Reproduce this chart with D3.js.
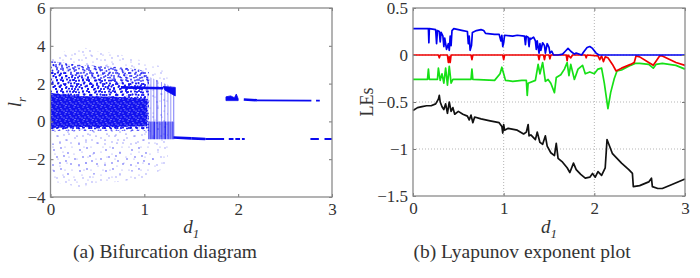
<!DOCTYPE html>
<html>
<head>
<meta charset="utf-8">
<script src="https://cdn.jsdelivr.net/npm/d3@7"></script>
<style>
  body { margin: 0; background: #fff; }
  svg text { font-family: "Liberation Serif", serif; fill: #333; }
</style>
</head>
<body>
<svg id="fig" width="700" height="278"></svg>
<script>
// ---- data ----

// (a) bifurcation diagram: scatter envelopes [d1, low lr, high lr]
const sparseCloud = [[0, -3.2, 3.4], [0.15, -3.3, 3.7], [0.3, -3.5, 4.0], [0.5, -3.3, 3.7], [0.7, -3.2, 3.6],
  [0.85, -3.1, 3.4], [1.0, -3.0, 3.2], [1.1, -2.8, 3.0], [1.2, -2.5, 2.9], [1.25, -2.2, 2.4]];
const lowerCloud = [[0, -2.8, -1.2], [0.3, -2.9, -1.2], [0.6, -2.7, -1.3], [0.9, -2.6, -1.3], [1.1, -2.4, -1.4]];
const gapCloud = [[0, -1.2, -0.5], [0.5, -1.2, -0.5], [1.0, -1.2, -0.5]];
const mediumCloud = [[0, -0.5, 3.2], [0.3, -0.5, 3.0], [0.6, -0.5, 2.9], [0.9, -0.5, 2.8], [1.05, -0.5, 2.6]];
const heavyCloud = [[0, -0.4, 2.7], [0.3, -0.4, 2.4], [0.6, -0.4, 2.2], [0.9, -0.4, 2.1], [1.03, -0.4, 2.0]];
const denseCloud = [[0, -0.35, 1.5], [0.3, -0.3, 1.35], [0.7, -0.3, 1.3], [1.03, -0.25, 1.2]];
const denseEdge = [[0, -0.4, 3.1], [0.05, -0.4, 3.0]];
const streakUpper = [[1.03, 0.0, 2.4], [1.32, 0.0, 1.8]];
const streakLower = [[1.04, -0.95, 0.0], [1.32, -0.95, 0.0]];
const blockBand = [[1.2, 1.85], [1.33, 1.8], [1.33, 1.35], [1.22, 1.65]];
const blockCluster = [[1.87, 1.1], [1.87, 1.3], [1.92, 1.35], [1.96, 1.25], [1.98, 1.45], [2.0, 1.2], [2.0, 1.1]];
// periodic branches [d1 start, lr start, d1 end, lr end]
const thickBranches = [[1.31, -0.85, 1.5, -0.9], [1.5, -0.9, 1.65, -0.93], [2.06, 1.16, 2.2, 1.12], [0.75, 1.8, 1.2, 1.75]];
const thinBranches = [[1.65, -0.93, 1.85, -0.93], [1.9, -0.93, 1.95, -0.93], [1.97, -0.93, 2.02, -0.93],
  [2.04, -0.93, 2.07, -0.93], [2.2, 1.11, 2.78, 1.1], [2.83, 1.1, 2.87, 1.1], [2.77, -0.93, 2.86, -0.93], [2.92, -0.93, 3.0, -0.93]];

// (b) Lyapunov exponents [d1, value]
const le1 = [[0,0.28],[0.17,0.28],[0.175,0.13],[0.18,0.28],[0.25,0.27],[0.26,0.12],[0.27,0.26],[0.29,0.25],[0.3,0.14],
  [0.31,0.24],[0.33,0.2],[0.34,0.09],[0.35,0.18],[0.37,0.06],[0.39,0.12],[0.4,0.05],[0.41,0.2],[0.42,0.1],[0.43,0.26],
  [0.45,0.28],[0.5,0.27],[0.55,0.26],[0.6,0.25],[0.61,0.12],[0.62,0.2],[0.63,0.05],[0.645,0.1],[0.655,0.24],[0.7,0.26],
  [0.75,0.27],[0.78,0.26],[0.8,0.23],[0.9,0.22],[0.95,0.22],[0.97,0.15],[0.98,0.21],[0.99,0.09],[1.0,0.13],[1.01,0.21],
  [1.1,0.2],[1.15,0.21],[1.23,0.2],[1.24,0.11],[1.25,0.2],[1.27,0.19],[1.28,0.09],[1.29,0.18],[1.3,0.17],[1.33,0.19],
  [1.35,0.15],[1.36,0.06],[1.37,0.15],[1.39,0.02],[1.4,0.12],[1.41,0.05],[1.43,0.13],[1.45,0.1],[1.46,0.02],[1.48,0.12],
  [1.5,0.08],[1.51,0.02],[1.53,0.04],[1.55,0.0],[1.6,0.0],[1.65,0.01],[1.68,0.04],[1.71,0.07],[1.74,0.04],[1.78,0.01],
  [1.8,0.02],[1.83,0.01],[1.86,0.0],[1.88,0.03],[1.92,0.08],[1.95,0.09],[1.98,0.07],[2.02,0.02],[2.05,0.0],[3.0,0.0]];
const le2 = [[0,0],[0.28,0],[0.29,-0.03],[0.3,0],[0.38,0],[0.39,-0.08],[0.4,-0.02],[0.41,-0.08],[0.42,0],[0.64,0],
  [0.65,-0.05],[0.66,0],[0.99,0],[1.0,-0.05],[1.01,0],[1.38,0],[1.39,-0.05],[1.4,0],[1.44,0],[1.45,-0.05],[1.46,0],
  [1.5,0],[1.51,-0.04],[1.52,0],[1.69,0],[1.7,-0.06],[1.71,0],[1.74,-0.03],[1.76,0],[1.9,0],[1.91,-0.03],[1.92,0],
  [2.04,-0.01],[2.06,-0.05],[2.08,-0.01],[2.1,-0.07],[2.12,-0.02],[2.15,-0.03],[2.2,-0.1],[2.24,-0.17],[2.3,-0.14],
  [2.4,-0.1],[2.44,-0.08],[2.46,-0.01],[2.5,-0.02],[2.6,-0.08],[2.65,-0.11],[2.72,-0.01],[2.75,-0.01],[2.9,-0.08],[3.0,-0.11]];
const le3 = [[0,-0.26],[0.16,-0.26],[0.17,-0.15],[0.18,-0.26],[0.27,-0.26],[0.28,-0.14],[0.3,-0.27],[0.32,-0.2],
  [0.34,-0.3],[0.36,-0.14],[0.38,-0.32],[0.4,-0.12],[0.42,-0.3],[0.44,-0.26],[0.64,-0.26],[0.65,-0.15],[0.66,-0.26],
  [0.9,-0.27],[0.96,-0.2],[0.98,-0.13],[1.0,-0.2],[1.02,-0.27],[1.1,-0.28],[1.2,-0.27],[1.25,-0.27],[1.26,-0.43],
  [1.27,-0.3],[1.35,-0.27],[1.38,-0.1],[1.4,-0.2],[1.43,-0.08],[1.46,-0.28],[1.49,-0.26],[1.52,-0.3],[1.56,-0.4],
  [1.58,-0.24],[1.63,-0.21],[1.67,-0.15],[1.7,-0.08],[1.72,-0.22],[1.74,-0.1],[1.78,-0.26],[1.82,-0.15],[1.87,-0.11],
  [1.9,-0.2],[1.95,-0.18],[2.0,-0.2],[2.04,-0.15],[2.08,-0.14],[2.11,-0.3],[2.15,-0.57],[2.18,-0.4],[2.22,-0.25],
  [2.25,-0.17],[2.3,-0.16],[2.4,-0.11],[2.45,-0.09],[2.5,-0.09],[2.6,-0.1],[2.65,-0.14],[2.68,-0.1],[2.75,-0.09],
  [2.9,-0.11],[3.0,-0.15]];
const le4 = [[0,-0.59],[0.05,-0.56],[0.1,-0.55],[0.15,-0.54],[0.2,-0.54],[0.25,-0.52],[0.28,-0.47],[0.29,-0.43],
  [0.3,-0.5],[0.32,-0.55],[0.34,-0.58],[0.36,-0.52],[0.38,-0.62],[0.4,-0.5],[0.42,-0.6],[0.44,-0.56],[0.46,-0.63],
  [0.5,-0.6],[0.55,-0.63],[0.6,-0.65],[0.62,-0.69],[0.64,-0.64],[0.66,-0.72],[0.68,-0.66],[0.75,-0.68],[0.85,-0.7],
  [0.95,-0.72],[0.98,-0.76],[0.99,-0.83],[1.0,-0.74],[1.01,-0.8],[1.05,-0.78],[1.15,-0.8],[1.22,-0.84],[1.25,-0.82],
  [1.27,-0.74],[1.28,-0.86],[1.3,-0.85],[1.35,-0.9],[1.37,-0.82],[1.4,-0.93],[1.43,-0.95],[1.46,-0.86],[1.48,-0.97],
  [1.52,-1.04],[1.56,-1.07],[1.58,-0.94],[1.6,-1.1],[1.65,-1.14],[1.7,-1.2],[1.73,-1.25],[1.77,-1.15],[1.8,-1.22],
  [1.85,-1.27],[1.9,-1.31],[1.95,-1.3],[1.98,-1.26],[2.01,-1.3],[2.04,-1.24],[2.08,-1.28],[2.12,-1.2],[2.14,-0.9],
  [2.16,-0.95],[2.2,-1.05],[2.25,-1.1],[2.3,-1.15],[2.38,-1.22],[2.42,-1.26],[2.43,-1.4],[2.5,-1.39],[2.6,-1.35],
  [2.63,-1.31],[2.64,-1.4],[2.7,-1.42],[2.75,-1.42],[2.85,-1.38],[3.0,-1.32]];

const xTicks = [0, 1, 2, 3];
const leftYTicks = [-4, -2, 0, 2, 4, 6];
const rightYTicks = [-1.5, -1, -0.5, 0, 0.5];
const rightGridY = [-1, -0.5, 0];
const rightGridX = [1, 2];

// ---- drawing ----
const svg = d3.select('#fig');
const defs = svg.append('defs');
const blue = '#0a0af0';
const serif = '"Liberation Serif", serif';

// stipple textures for the scatter cloud; two tile sizes overlap so the dots do not line up
function stipple(id, w, h, dots, r, color, opacity, bg) {
  const p = defs.append('pattern').attr('id', id).attr('patternUnits', 'userSpaceOnUse')
    .attr('width', w).attr('height', h);
  if (bg) p.append('rect').attr('width', w).attr('height', h).attr('fill', bg);
  p.selectAll('circle').data(dots).join('circle')
    .attr('cx', d => d[0]).attr('cy', d => d[1]).attr('r', r)
    .attr('fill', color).attr('fill-opacity', opacity);
}
stipple('sparseA', 26, 21, [[2,3],[9,1],[16,6],[23,12],[5,10],[12,9],[19,17],[8,16],[14,14],[1,18]], 0.65, blue, 0.5);
stipple('sparseB', 19, 23, [[3,5],[10,2],[15,9],[6,14],[12,19],[17,16],[1,21],[8,9]], 0.6, blue, 0.45);
stipple('mediumA', 16, 12, [[1,1],[7,2],[13,1.5],[2,4],[8,5],[14,5.5],[3,7.5],[9,8],[15,8.5],[4.5,10.5],[10.5,11],[12,3]],
  0.95, blue, 0.8);
stipple('mediumB', 13, 11, [[4,0.5],[10,1],[5,3.5],[11,4],[0.5,7],[6,6.5],[12,7],[1.5,10],[7.5,9.5],[9,3]],
  0.95, blue, 0.8);
stipple('dense', 9, 7, [[2,2],[6,1],[4,5],[8,5],[1,6],[7,3.5],[3,0.5]], 0.6, '#ffffff', 0.7, '#1212ee');
function streaks(id, w, xs, width, opacity) {
  const p = defs.append('pattern').attr('id', id).attr('patternUnits', 'userSpaceOnUse')
    .attr('width', w).attr('height', 5);
  p.selectAll('rect').data(xs).join('rect')
    .attr('x', d => d).attr('width', width).attr('height', 5).attr('fill', blue).attr('fill-opacity', opacity);
}
streaks('streakLight', 17, [0.5, 3.2, 4.4, 8, 11.5, 14.6], 0.7, 0.6);
streaks('streakDense', 11, [0, 1.6, 2.8, 4.5, 5.6, 7.3, 8.5, 9.8], 0.9, 0.95);

const tickFont = 17;

function frame(g, x, y, yTicks, yFmt) {
  const x0 = x.range()[0], x1 = x.range()[1], y0 = y.range()[1], y1 = y.range()[0];
  g.append('g').attr('transform', `translate(0,${y1})`)
    .call(d3.axisBottom(x).tickValues(xTicks).tickSizeInner(-3).tickSizeOuter(0).tickPadding(6).tickFormat(d3.format('d')));
  g.append('g').attr('transform', `translate(0,${y0})`)
    .call(d3.axisTop(x).tickValues(xTicks).tickSizeInner(-3).tickSizeOuter(0).tickFormat(''));
  g.append('g').attr('transform', `translate(${x0},0)`)
    .call(d3.axisLeft(y).tickValues(yTicks).tickSizeInner(-3).tickSizeOuter(0).tickPadding(5).tickFormat(yFmt));
  g.append('g').attr('transform', `translate(${x1},0)`)
    .call(d3.axisRight(y).tickValues(yTicks).tickSizeInner(-3).tickSizeOuter(0).tickFormat(''));
  g.selectAll('.domain').remove();
  g.selectAll('.tick line').attr('stroke', '#777');
  g.selectAll('.tick text').style('font-size', tickFont + 'px').style('font-family', serif).attr('fill', '#333');
  g.append('rect').attr('x', x0).attr('y', y0).attr('width', x1 - x0).attr('height', y1 - y0)
    .attr('fill', 'none').attr('stroke', '#8a8a8a').attr('stroke-width', 1.3);
}

function xLabel(g, x, yPos) {
  const t = g.append('text').attr('x', (x.range()[0] + x.range()[1]) / 2).attr('y', yPos)
    .attr('text-anchor', 'middle').style('font-size', '19px').style('font-style', 'italic');
  t.append('tspan').text('d');
  t.append('tspan').style('font-size', '13px').attr('dy', 5).text('1');
}

// (a) bifurcation diagram
const xa = d3.scaleLinear([0, 3], [50.5, 332]);
const ya = d3.scaleLinear([-4, 6], [197, 8]);
const ga = svg.append('g');
defs.append('clipPath').attr('id', 'clipA').append('rect')
  .attr('x', 50.5).attr('y', 8).attr('width', 281.5).attr('height', 189);
const plotA = ga.append('g').attr('clip-path', 'url(#clipA)');
const band = d3.area().x(d => xa(d[0])).y0(d => ya(d[1])).y1(d => ya(d[2]));
const poly = d3.line().x(d => xa(d[0])).y(d => ya(d[1]));

[[sparseCloud, 'sparseA'], [sparseCloud, 'sparseB'], [lowerCloud, 'sparseA'], [gapCloud, 'sparseB'],
 [mediumCloud, 'mediumA'], [mediumCloud, 'mediumB'], [heavyCloud, 'mediumA'], [heavyCloud, 'mediumB'],
 [denseEdge, 'mediumB'], [denseCloud, 'dense'], [streakUpper, 'streakLight'], [streakLower, 'streakDense']].forEach(([d, p]) => {
  plotA.append('path').attr('d', band(d)).attr('fill', `url(#${p})`);
});
[blockBand, blockCluster].forEach(d => {
  plotA.append('path').attr('d', poly(d) + 'Z').attr('fill', blue).attr('stroke', blue).attr('stroke-width', 0.8);
});
plotA.selectAll('line.thick').data(thickBranches).join('line').attr('class', 'thick')
  .attr('x1', d => xa(d[0])).attr('y1', d => ya(d[1])).attr('x2', d => xa(d[2])).attr('y2', d => ya(d[3]))
  .attr('stroke', blue).attr('stroke-width', 2.6);
plotA.selectAll('line.thin').data(thinBranches).join('line').attr('class', 'thin')
  .attr('x1', d => xa(d[0])).attr('y1', d => ya(d[1])).attr('x2', d => xa(d[2])).attr('y2', d => ya(d[3]))
  .attr('stroke', blue).attr('stroke-width', 1.8);

frame(ga, xa, ya, leftYTicks, d3.format('d'));
xLabel(ga, xa, 233);
const yla = ga.append('text').attr('transform', 'translate(21,102) rotate(-90)')
  .attr('text-anchor', 'middle').style('font-size', '19px').style('font-style', 'italic');
yla.append('tspan').text('l');
yla.append('tspan').style('font-size', '13px').attr('dy', 5).text('r');
ga.append('text').attr('x', 165).attr('y', 258).attr('text-anchor', 'middle').style('font-size', '19.5px')
  .text('(a) Bifurcation diagram');

// (b) Lyapunov exponent plot
const xb = d3.scaleLinear([0, 3], [413, 685]);
const yb = d3.scaleLinear([-1.5, 0.5], [196, 8]);
const gb = svg.append('g');
gb.selectAll('line.gx').data(rightGridX).join('line').attr('class', 'gx')
  .attr('x1', d => xb(d)).attr('x2', d => xb(d)).attr('y1', 8).attr('y2', 196)
  .attr('stroke', '#b5b5b5').attr('stroke-dasharray', '1,2');
gb.selectAll('line.gy').data(rightGridY).join('line').attr('class', 'gy')
  .attr('x1', 413).attr('x2', 685).attr('y1', d => yb(d)).attr('y2', d => yb(d))
  .attr('stroke', '#b5b5b5').attr('stroke-dasharray', '1,2');

const line = d3.line().x(d => xb(d[0])).y(d => yb(d[1]));
[[le4, '#111'], [le3, '#16e016'], [le2, '#f00000'], [le1, '#0000f0']].forEach(([d, c]) => {
  gb.append('path').attr('d', line(d)).attr('fill', 'none').attr('stroke', c)
    .attr('stroke-width', 1.7).attr('stroke-linejoin', 'round');
});

frame(gb, xb, yb, rightYTicks, d3.format('~g'));
xLabel(gb, xb, 233);
gb.append('text').attr('transform', 'translate(373,102) rotate(-90)')
  .attr('text-anchor', 'middle').style('font-size', '18px').text('LEs');
gb.append('text').attr('x', 522).attr('y', 258).attr('text-anchor', 'middle').style('font-size', '19.5px')
  .text('(b) Lyapunov exponent plot');
</script>
</body>
</html>
